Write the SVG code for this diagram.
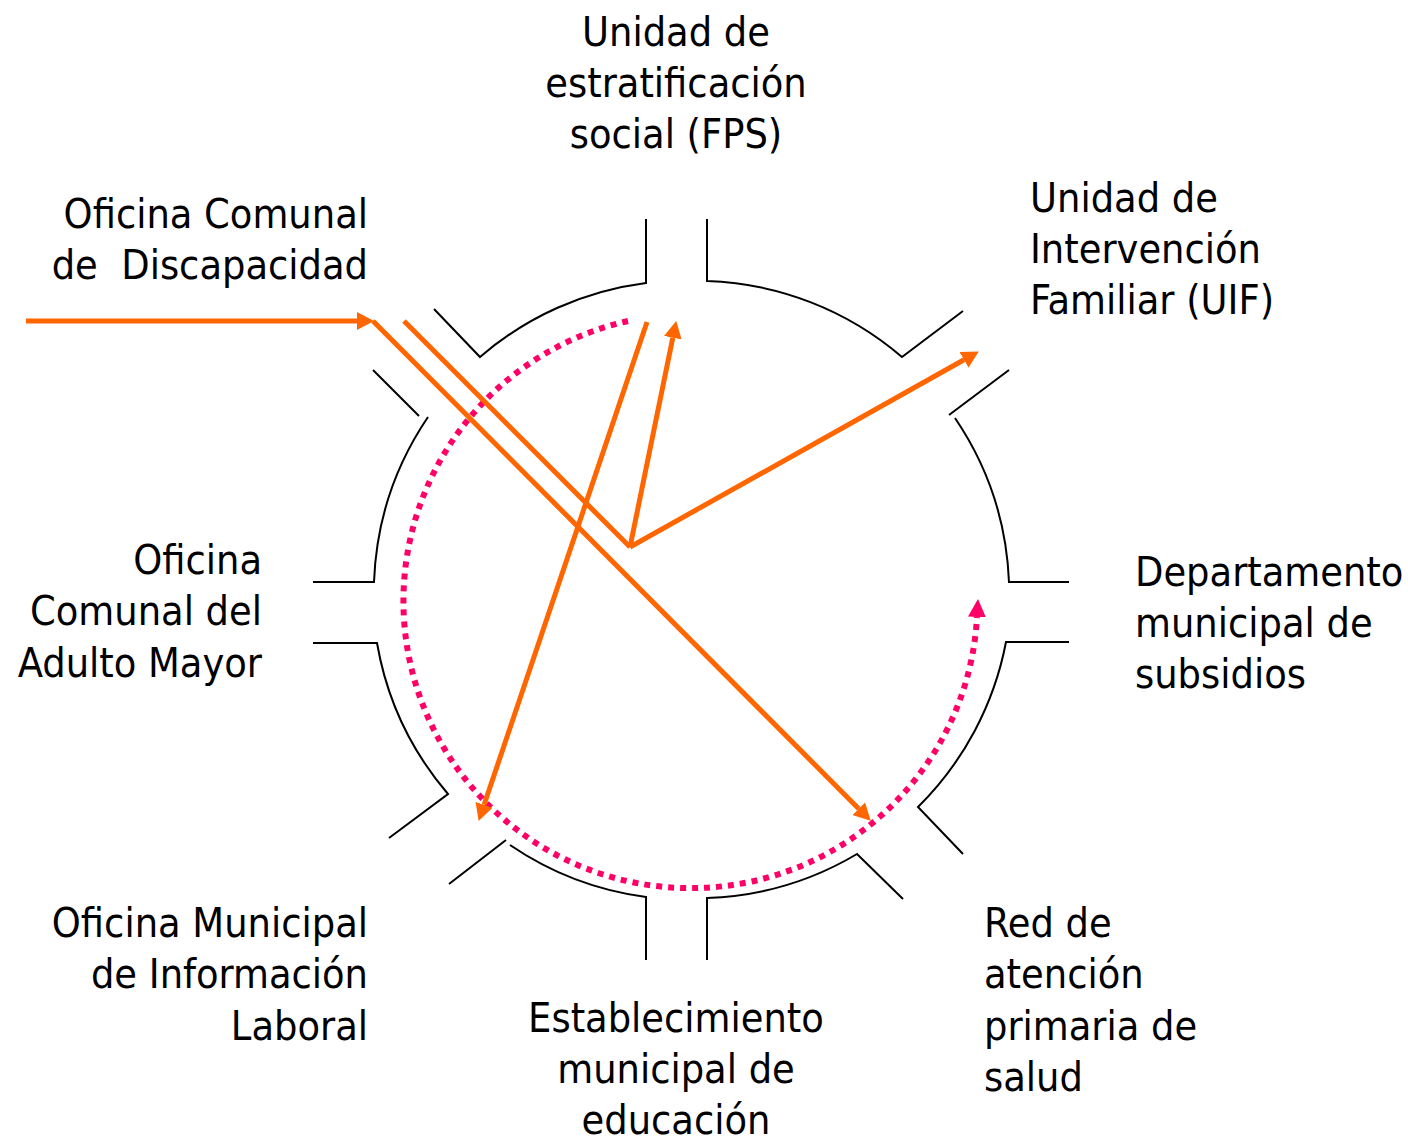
<svg xmlns="http://www.w3.org/2000/svg" width="1408" height="1139" viewBox="0 0 1408 1139">
<style>
  text { font-family: "DejaVu Sans Condensed", "DejaVu Sans", sans-serif; font-stretch: condensed; font-size: 41px; fill: #000; white-space: pre; }
  .mid { text-anchor: middle; }
  .end { text-anchor: end; }
  .ring path { fill: none; stroke: #000; stroke-width: 2; }
  .arrow { fill: none; stroke: #FF6600; stroke-width: 5; }
  .dots { fill: none; stroke: #FF0066; stroke-width: 6; stroke-dasharray: 6 6; }
</style>
<defs>
  <marker id="ah" markerUnits="userSpaceOnUse" markerWidth="17" markerHeight="18" refX="0" refY="9" orient="auto">
    <path d="M0,0 L17,9 L0,18 Z" fill="#FF6600"/>
  </marker>
  <marker id="ahp" markerUnits="userSpaceOnUse" markerWidth="18" markerHeight="18" refX="0" refY="9" orient="auto">
    <path d="M0,0 L18,9 L0,18 Z" fill="#FF0066"/>
  </marker>
</defs>
<rect width="1408" height="1139" fill="#fff"/>

<g id="ring" class="ring">
  <path d="M434,309 L480,357 A315,315 0 0 1 646,283 L646,219"/>
  <path d="M707,219 L707,281 A315,315 0 0 1 902,357 L963,311"/>
  <path d="M1009,370 L949,415 M955,418 A315,315 0 0 1 1009,582 L1069,582"/>
  <path d="M1069,642 L1006,642 A315,315 0 0 1 918,807 L963,854"/>
  <path d="M903,899 L857,854 A315,315 0 0 1 707,898 L707,960"/>
  <path d="M646,960 L646,897 A315,315 0 0 1 510,845 M506,840 L449,884"/>
  <path d="M389,838 L448,794 A315,315 0 0 1 377,643 L313,643"/>
  <path d="M313,582 L374,582 A315,315 0 0 1 428,417 M419,416 L373,370"/>
</g>

<g id="node-fps">
  <text class="mid" x="676" y="46">Unidad de</text>
  <text class="mid" x="676" y="97">estratificación</text>
  <text class="mid" x="676" y="148">social (FPS)</text>
</g>
<g id="node-uif">
  <text x="1030" y="212">Unidad de</text>
  <text x="1030" y="263">Intervención</text>
  <text x="1030" y="314">Familiar (UIF)</text>
</g>
<g id="node-subsidios">
  <text x="1135" y="586">Departamento</text>
  <text x="1135" y="637">municipal de</text>
  <text x="1135" y="688">subsidios</text>
</g>
<g id="node-salud">
  <text x="984" y="937">Red de</text>
  <text x="984" y="988">atención</text>
  <text x="984" y="1040">primaria de</text>
  <text x="984" y="1091">salud</text>
</g>
<g id="node-educacion">
  <text class="mid" x="676" y="1032">Establecimiento</text>
  <text class="mid" x="676" y="1083">municipal de</text>
  <text class="mid" x="676" y="1134">educación</text>
</g>
<g id="node-laboral">
  <text class="end" x="368" y="937">Oficina Municipal</text>
  <text class="end" x="368" y="988">de Información</text>
  <text class="end" x="368" y="1040">Laboral</text>
</g>
<g id="node-adulto-mayor">
  <text class="end" x="262" y="574">Oficina</text>
  <text class="end" x="262" y="625">Comunal del</text>
  <text class="end" x="262" y="677">Adulto Mayor</text>
</g>
<g id="node-discapacidad">
  <text class="end" x="368" y="228">Oficina Comunal</text>
  <text class="end" x="368" y="279">de  Discapacidad</text>
</g>

<g id="connectors">
  <path class="dots" d="M628,321 A287,287 0 1 0 977,617" marker-end="url(#ahp)"/>
  <line class="arrow" x1="26" y1="321" x2="357" y2="321" marker-end="url(#ah)"/>
  <line class="arrow" x1="373" y1="321" x2="858.7" y2="808.7" marker-end="url(#ah)"/>
  <line class="arrow" x1="404" y1="321" x2="630" y2="547"/>
  <line class="arrow" x1="630" y1="547" x2="672.8" y2="337.7" marker-end="url(#ah)"/>
  <line class="arrow" x1="630" y1="547" x2="964" y2="359.8" marker-end="url(#ah)"/>
  <line class="arrow" x1="647" y1="322" x2="484.1" y2="804.8" marker-end="url(#ah)"/>
</g>
</svg>
